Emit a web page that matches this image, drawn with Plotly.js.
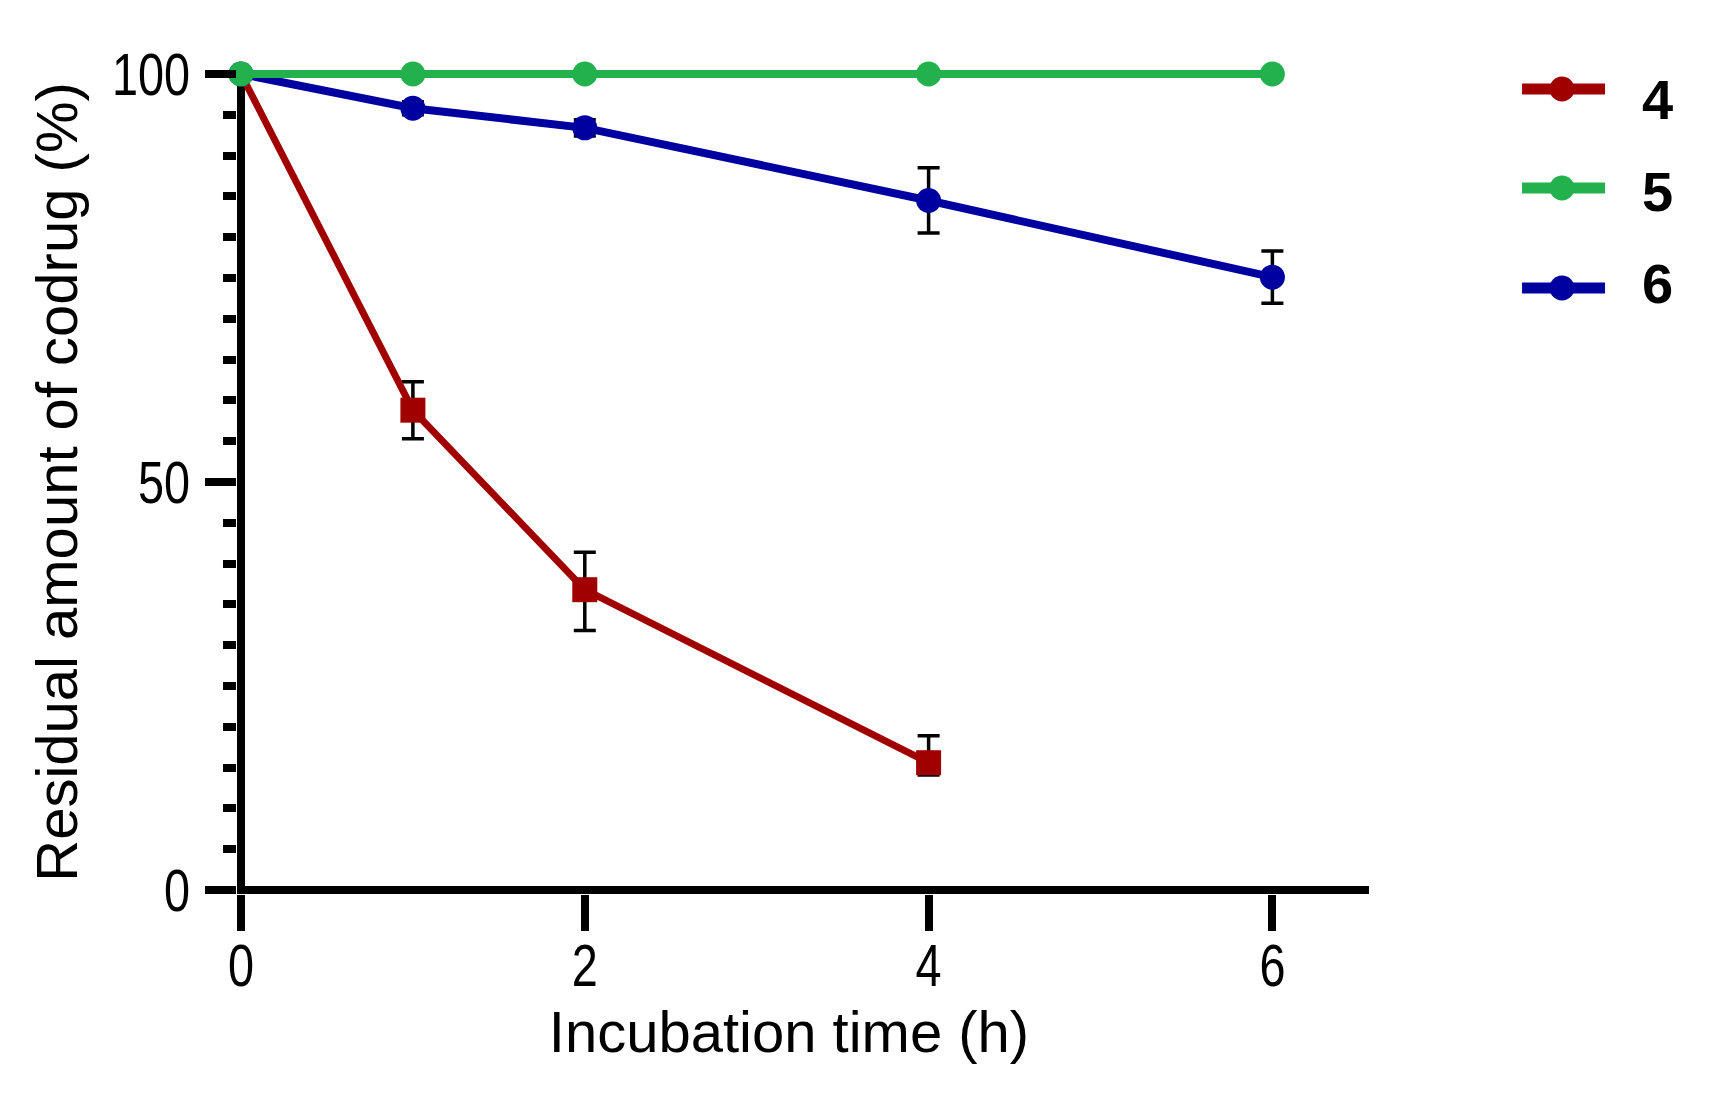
<!DOCTYPE html>
<html>
<head>
<meta charset="utf-8">
<script src="https://cdn.plot.ly/plotly-3.0.1.min.js"></script>
<style>
  html, body { margin: 0; padding: 0; background: #ffffff; }
  #chart { width: 1712px; height: 1100px; }
</style>
</head>
<body>
<div id="chart"></div>
<script>
// ---- Data ----
const seriesNames = ['4', '5', '6'];
const seriesColors = ['#a00000', '#22b14c', '#0000a0'];

const time4 = [0, 1, 2, 4];
const residual4 = [100, 58.8, 36.8, 15.6];
const error4Plus = [0, 3.5, 4.6, 3.3];
const error4Minus = [0, 3.5, 5.0, 1.5];

const time5 = [0, 1, 2, 4, 6];
const residual5 = [100, 100, 100, 100, 100];
const error5 = [0, 0, 0, 0, 0];

const time6 = [0, 1, 2, 4, 6];
const residual6 = [100, 95.8, 93.4, 84.5, 75.1];
const error6 = [0, 0.8, 1.0, 4.0, 3.2];

const xTickValues = [0, 2, 4, 6];
const yTickValues = [0, 50, 100];

const xTitle = 'Incubation time (h)';
const yTitle = 'Residual amount of codrug (%)';

// ---- Traces ----
function makeTrace(x, y, errPlus, errMinus, idx, symbol, lw, ms) {
  return {
    type: 'scatter',
    mode: 'lines+markers',
    name: seriesNames[idx],
    x: x,
    y: y,
    cliponaxis: false,
    line: { color: seriesColors[idx], width: lw },
    marker: { color: seriesColors[idx], size: ms, symbol: symbol, opacity: 1, line: { width: 0 } },
    error_y: { type: 'data', symmetric: false, array: errPlus, arrayminus: errMinus, visible: true, color: '#000000', thickness: 3.5, width: 11 },
    showlegend: false
  };
}

const traces = [
  // the first (0 h) square sits underneath the green circle, so keep it small enough to be hidden
  makeTrace(time4, residual4, error4Plus, error4Minus, 0, 'square', 7, [16, 25, 25, 25]),
  makeTrace(time6, residual6, error6, error6, 2, 'circle', 8, 25),
  makeTrace(time5, residual5, error5, error5, 1, 'circle', 8, 25)
];

// ---- Custom legend (layout-only decoration) ----
const legendRowY = [0.9769, 0.8568, 0.7354];
const legendTextY = [0.9636, 0.852, 0.7415];
const shapes = [];
const annotations = [];
seriesNames.forEach(function (nm, i) {
  shapes.push({
    type: 'line', xref: 'paper', yref: 'paper',
    x0: 1.1352, x1: 1.2085, y0: legendRowY[i], y1: legendRowY[i],
    line: { color: seriesColors[i], width: 11 }
  });
  shapes.push({
    type: 'circle', xref: 'paper', yref: 'paper',
    xsizemode: 'pixel', ysizemode: 'pixel',
    xanchor: 1.1705, yanchor: legendRowY[i],
    x0: -12.5, x1: 12.5, y0: -12.5, y1: 12.5,
    fillcolor: seriesColors[i], line: { width: 0 }
  });
  annotations.push({
    xref: 'paper', yref: 'paper', x: 1.2394, y: legendTextY[i],
    xanchor: 'left', yanchor: 'middle', showarrow: false,
    text: '<b>' + nm + '</b>',
    font: { family: 'Arial, Liberation Sans, sans-serif', size: 56, color: '#000000' }
  });
});

const tickFont = { family: 'Arial, Liberation Sans, sans-serif', size: 60, color: '#000000' };
const titleFont = { family: 'Arial, Liberation Sans, sans-serif', size: 58, color: '#000000' };

const layout = {
  width: 1712,
  height: 1100,
  paper_bgcolor: '#ffffff',
  plot_bgcolor: '#ffffff',
  margin: { l: 237, r: 343, t: 70, b: 206, pad: 0 },
  showlegend: false,
  xaxis: {
    range: [-0.0233, 6.562],
    tickvals: xTickValues,
    ticktext: xTickValues.map(String),
    ticks: 'outside',
    ticklen: 36,
    tickwidth: 8,
    tickcolor: '#000000',
    tickfont: tickFont,
    ticklabelstandoff: -17,
    showline: false,
    showgrid: false,
    zeroline: true,
    zerolinecolor: '#000000',
    zerolinewidth: 8,
    automargin: false,
    title: { text: xTitle, font: titleFont, standoff: 12 }
  },
  yaxis: {
    range: [-0.49, 100.49],
    tickvals: yTickValues,
    ticktext: yTickValues.map(String),
    ticks: 'outside',
    ticklen: 31,
    tickwidth: 8,
    tickcolor: '#000000',
    tickfont: tickFont,
    ticklabelstandoff: 3,
    minor: { dtick: 5, ticks: 'outside', ticklen: 13, tickwidth: 8, tickcolor: '#000000', showgrid: false },
    showline: false,
    showgrid: false,
    zeroline: true,
    zerolinecolor: '#000000',
    zerolinewidth: 8,
    automargin: false,
    title: { text: yTitle, font: titleFont, standoff: 7 }
  },
  shapes: shapes,
  annotations: annotations
};

// Narrow the tick-label glyphs horizontally (the reference uses a condensed face)
// and nudge the axis titles to where the reference has them.
function finishStyling() {
  const labels = document.querySelectorAll('#chart .xtick text, #chart .ytick text');
  labels.forEach(function (t) {
    const x = parseFloat(t.getAttribute('x')) || 0;
    const tr = t.getAttribute('transform') || '';
    t.setAttribute('transform', tr + ' translate(' + x + ',0) scale(0.78,1) translate(' + (-x) + ',0)');
  });
  const yt = document.querySelector('#chart .ytitle');
  if (yt) yt.setAttribute('transform', 'translate(14,0) ' + (yt.getAttribute('transform') || ''));
  const xt = document.querySelector('#chart .xtitle');
  if (xt) xt.setAttribute('transform', 'translate(-14,0) ' + (xt.getAttribute('transform') || ''));
}

Plotly.newPlot('chart', traces, layout, { displayModeBar: false, staticPlot: true }).then(finishStyling);
</script>
</body>
</html>
